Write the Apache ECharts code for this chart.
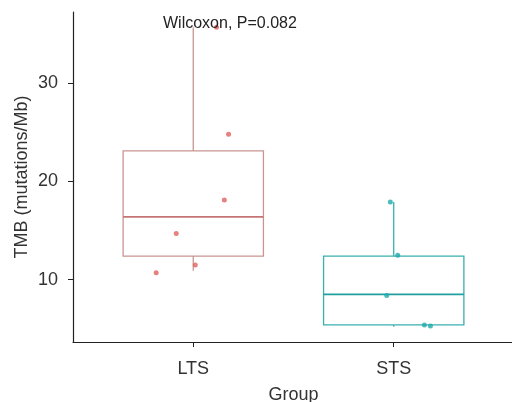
<!DOCTYPE html>
<html>
<head>
<meta charset="utf-8">
<script src="https://cdn.jsdelivr.net/npm/echarts@6/dist/echarts.min.js"></script>
<style>
  html, body { margin: 0; padding: 0; background: #fff; }
  #chart { width: 512px; height: 402px; }
</style>
</head>
<body>
<div id="chart"></div>
<script>
const groups = ['LTS', 'STS']
const boxColors = ['#c99592', '#3aafb0']
const medianColors = ['#c47472', '#229fa0']
const pointColors = ['#e0625c', '#1faaaa']

// box stats: [lower whisker, Q1, median, Q3, upper whisker]
const ltsBox = [10.9, 12.4, 16.4, 23.1, 35.7]
const stsBox = [5.2, 5.4, 8.5, 12.4, 17.9]

// jittered points: x position (group 1 / 2 plus jitter) and TMB value
const ltsX = [1.116, 1.176, 1.155, 0.915, 1.01, 0.815]
const ltsValues = [35.7, 24.8, 18.1, 14.7, 11.5, 10.7]
const stsX = [1.983, 2.02, 1.965, 2.153, 2.183]
const stsValues = [17.9, 12.5, 8.4, 5.4, 5.3]

const yTicks = [10, 20, 30]
const yMin = 3.66
const yMax = 37.24
const boxWidth = 0.7

const font = "'Liberation Sans', Arial, sans-serif"
const chart = echarts.init(document.getElementById('chart'))

// ggplot-style box: no whisker caps, median drawn a bit stronger
const renderBox = (params, api) => {
  const i = params.dataIndex
  const x = api.value(0)
  const w = api.size([boxWidth, 0])[0]
  const lo = api.coord([x, api.value(1)])
  const q1 = api.coord([x, api.value(2)])
  const med = api.coord([x, api.value(3)])
  const q3 = api.coord([x, api.value(4)])
  const hi = api.coord([x, api.value(5)])
  const stroke = { stroke: boxColors[i], lineWidth: 1.3, fill: null }
  return {
    type: 'group',
    children: [
      { type: 'line', shape: { x1: hi[0], y1: hi[1], x2: q3[0], y2: q3[1] }, style: stroke },
      { type: 'line', shape: { x1: q1[0], y1: q1[1], x2: lo[0], y2: lo[1] }, style: stroke },
      {
        type: 'rect',
        shape: { x: q3[0] - w / 2, y: q3[1], width: w, height: q1[1] - q3[1] },
        style: { stroke: boxColors[i], lineWidth: 1.3, fill: '#fff' },
      },
      {
        type: 'line',
        shape: { x1: med[0] - w / 2, y1: med[1], x2: med[0] + w / 2, y2: med[1] },
        style: { stroke: medianColors[i], lineWidth: 1.8 },
      },
    ],
  }
}

chart.setOption({
  animation: false,
  title: {
    text: 'Wilcoxon, P=0.082',
    left: 163,
    top: 16,
    padding: 0,
    textStyle: { fontFamily: font, fontSize: 16, fontWeight: 'normal', color: '#222' },
  },
  grid: { left: 73, top: 12, width: 441, height: 330, outerBoundsMode: 'none' },
  xAxis: {
    type: 'value',
    min: 0.4,
    max: 2.6,
    name: 'Group',
    nameLocation: 'middle',
    nameGap: 44,
    nameMoveOverlap: false,
    nameTextStyle: { fontFamily: font, fontSize: 18, color: '#333' },
    axisLine: { lineStyle: { color: '#222', width: 1.2 } },
    axisTick: { customValues: [1, 2], length: 5, lineStyle: { color: '#222' } },
    axisLabel: {
      customValues: [1, 2],
      formatter: (v) => groups[Math.round(v) - 1],
      fontFamily: font,
      fontSize: 18,
      color: '#333',
      margin: 18,
    },
    splitLine: { show: false },
  },
  yAxis: {
    type: 'value',
    min: yMin,
    max: yMax,
    name: 'TMB (mutations/Mb)',
    nameLocation: 'middle',
    nameGap: 42,
    nameMoveOverlap: false,
    nameTextStyle: { fontFamily: font, fontSize: 18, color: '#333' },
    axisLine: { show: true, lineStyle: { color: '#222', width: 1.2 } },
    axisTick: { show: true, customValues: yTicks, length: 5, lineStyle: { color: '#222' } },
    axisLabel: { customValues: yTicks, fontFamily: font, fontSize: 18, color: '#333', margin: 15 },
    splitLine: { show: false },
  },
  series: [
    {
      type: 'custom',
      renderItem: renderBox,
      encode: { x: 0, y: [1, 2, 3, 4, 5] },
      data: [[1, ...ltsBox], [2, ...stsBox]],
      z: 2,
    },
    {
      type: 'scatter',
      symbolSize: 5,
      itemStyle: { color: pointColors[0] },
      data: ltsValues.map((v, i) => [ltsX[i], v]),
      z: 3,
    },
    {
      type: 'scatter',
      symbolSize: 5,
      itemStyle: { color: pointColors[1] },
      data: stsValues.map((v, i) => [stsX[i], v]),
      z: 3,
    },
  ],
})
</script>
</body>
</html>
